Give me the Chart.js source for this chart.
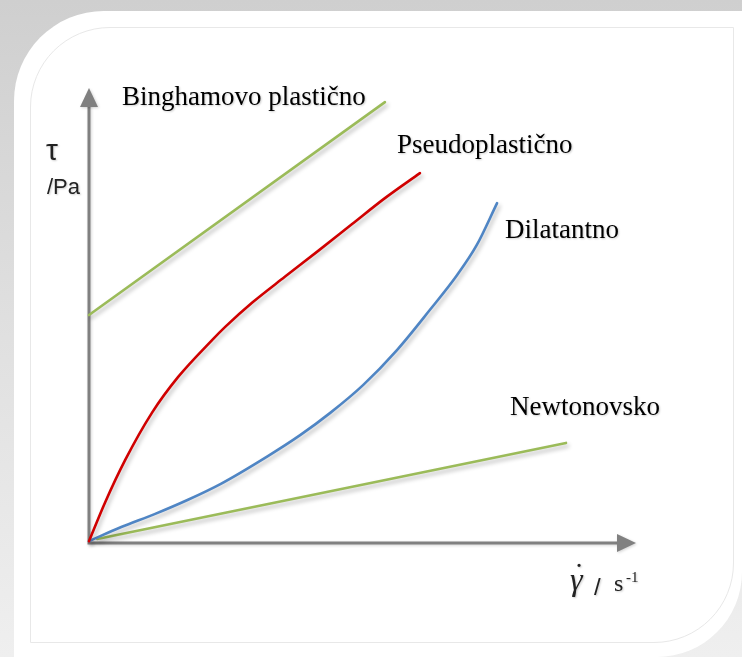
<!DOCTYPE html>
<html><head><meta charset="utf-8">
<script src="https://cdn.jsdelivr.net/npm/chart.js@4/dist/chart.umd.min.js"></script>
<style>
html,body{margin:0;padding:0;width:742px;height:657px;overflow:hidden;}
body{position:relative;background:linear-gradient(180deg,#cfcfcf 0%,#dedede 45%,#efefef 100%);}
#card{position:absolute;left:14px;top:11px;right:0;bottom:0;background:#fff;border-top-left-radius:90px;border-bottom-right-radius:85px;}
#inner{position:absolute;left:30px;top:27px;width:702px;height:614px;border:1px solid #e8e8e8;border-top-left-radius:80px;border-bottom-right-radius:80px;}
canvas{position:absolute;left:0;top:0;}
</style></head>
<body>
<div id="card"></div><div id="inner"></div>
<canvas id="c" width="742" height="657"></canvas>
<script>
// ---- data (arbitrary units 0..100) ----
const binghamX = [0, 54.1];
const binghamY = [50.1, 96.9];
const pseudoX = [0, 2.9, 6.6, 11.5, 16.3, 22.5, 24.9, 29.8, 35.8, 41.9, 48.1, 54.1, 60.5];
const pseudoY = [0.4, 8.8, 18.2, 28.6, 36.5, 44.6, 47.5, 52.8, 58.5, 64.2, 70.1, 75.8, 81.3];
const dilatX = [0, 5.9, 12.1, 18.1, 24.1, 32.7, 38.6, 44.1, 50.1, 56.3, 62.3, 67.3, 70.9, 74.6];
const dilatY = [0.4, 3.5, 6.4, 9.5, 13.0, 19.1, 23.7, 28.6, 34.7, 42.4, 51.2, 58.9, 65.5, 74.7];
const newtonX = [1.5, 87.2];
const newtonY = [0.9, 22.0];
const seriesNames = ['Binghamovo plastično', 'Pseudoplastično', 'Dilatantno', 'Newtonovsko'];
const yTitle = ['τ', '/Pa'];
const xTitle = ['γ', '˙', '/', 's', '-1'];

const pts = (xs, ys) => xs.map((x, i) => ({x: x, y: ys[i]}));

const GREEN = '#9BBB59', RED = '#D00000', BLUE = '#4F85C4', AXIS = '#808080';

// label placement (pixels: left, baseline)
const labelPos = [[122, 105], [397, 153], [505, 238], [510, 415]];

const decorPlugin = {
  id: 'decor',
  beforeDatasetsDraw(chart) {
    const ctx = chart.ctx, xs = chart.scales.x, ys = chart.scales.y;
    const x0 = xs.getPixelForValue(0), y0 = ys.getPixelForValue(0);
    const xTip = xs.getPixelForValue(100), yTip = ys.getPixelForValue(100);
    ctx.save();
    ctx.strokeStyle = AXIS; ctx.fillStyle = AXIS; ctx.lineWidth = 3;
    ctx.shadowColor = 'rgba(0,0,0,0.18)'; ctx.shadowBlur = 3; ctx.shadowOffsetX = 1; ctx.shadowOffsetY = 1;
    ctx.beginPath();
    ctx.moveTo(x0, y0 + 1.5); ctx.lineTo(x0, yTip + 14);
    ctx.moveTo(x0 - 1.5, y0); ctx.lineTo(xTip - 14, y0);
    ctx.stroke();
    ctx.beginPath();
    ctx.moveTo(x0, yTip); ctx.lineTo(x0 - 9, yTip + 19); ctx.lineTo(x0 + 9, yTip + 19); ctx.closePath(); ctx.fill();
    ctx.beginPath();
    ctx.moveTo(xTip, y0); ctx.lineTo(xTip - 19, y0 - 9); ctx.lineTo(xTip - 19, y0 + 9); ctx.closePath(); ctx.fill();
    ctx.restore();
    ctx.save();
    ctx.shadowColor = 'rgba(0,0,0,0.28)'; ctx.shadowBlur = 4; ctx.shadowOffsetX = 2; ctx.shadowOffsetY = 3;
  },
  afterDatasetsDraw(chart) {
    chart.ctx.restore();
  },
  afterDraw(chart) {
    const ctx = chart.ctx;
    ctx.save();
    ctx.fillStyle = '#000';
    ctx.textBaseline = 'alphabetic';
    ctx.shadowColor = 'rgba(0,0,0,0.2)'; ctx.shadowBlur = 2; ctx.shadowOffsetX = 1; ctx.shadowOffsetY = 1;
    ctx.font = '27px "Liberation Serif"';
    seriesNames.forEach((t, i) => ctx.fillText(t, labelPos[i][0], labelPos[i][1]));
    // y-axis title
    ctx.fillStyle = '#222';
    ctx.font = '30px "Liberation Sans"';
    ctx.fillText(yTitle[0], 46, 160);
    ctx.font = '22px "Liberation Sans"';
    ctx.fillText(yTitle[1], 47, 194);
    // x-axis title
    ctx.font = 'italic 32px "Liberation Serif"';
    ctx.fillText(xTitle[0], 570, 590);
    ctx.font = '30px "Liberation Serif"';
    ctx.fillText(xTitle[1], 574, 584);
    ctx.font = '24px "Liberation Sans"';
    ctx.fillText(xTitle[2], 594, 595);
    ctx.font = '24px "Liberation Serif"';
    ctx.fillText(xTitle[3], 614, 591);
    ctx.font = '15px "Liberation Serif"';
    ctx.fillText(xTitle[4], 626, 582);
    ctx.restore();
  }
};

const ds = (label, data, color) => ({
  label: label, data: data, borderColor: color, backgroundColor: color,
  borderWidth: 2.6, pointRadius: 0, cubicInterpolationMode: 'monotone', fill: false, clip: false,
  borderCapStyle: 'round'
});

new Chart(document.getElementById('c'), {
  type: 'line',
  data: {
    datasets: [
      ds(seriesNames[0], pts(binghamX, binghamY), GREEN),
      ds(seriesNames[1], pts(pseudoX, pseudoY), RED),
      ds(seriesNames[2], pts(dilatX, dilatY), BLUE),
      ds(seriesNames[3], pts(newtonX, newtonY), GREEN)
    ]
  },
  options: {
    responsive: false, animation: false, devicePixelRatio: 1,
    layout: {padding: {left: 89, right: 106, top: 88, bottom: 114}},
    scales: {
      x: {type: 'linear', min: 0, max: 100, display: false},
      y: {type: 'linear', min: 0, max: 100, display: false}
    },
    plugins: {legend: {display: false}, tooltip: {enabled: false}}
  },
  plugins: [decorPlugin]
});
</script>
</body></html>
